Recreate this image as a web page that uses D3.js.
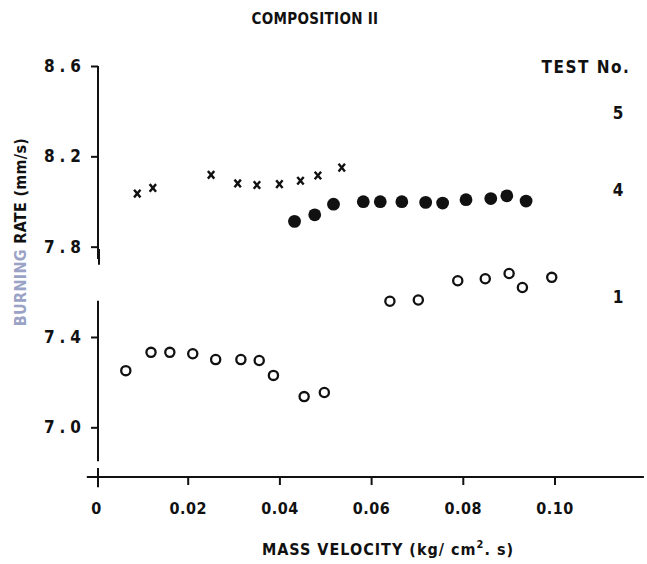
<!DOCTYPE html>
<html>
<head>
<meta charset="utf-8">
<script src="https://cdn.jsdelivr.net/npm/d3@7"></script>
<style>
  html, body { margin: 0; padding: 0; background: #fff; }
  svg { display: block; }
  text { font-family: "DejaVu Sans Condensed", "DejaVu Sans", sans-serif; fill: #111; }
</style>
</head>
<body>
<svg id="chart" width="647" height="564"></svg>
<script>
// ---- data ----
const title = "COMPOSITION II";
const xTickValues = [0, 0.02, 0.04, 0.06, 0.08, 0.10];
const xTickLabels = ["0", "0.02", "0.04", "0.06", "0.08", "0.10"];
const yTickValues = [7.0, 7.4, 7.8, 8.2, 8.6];
const yTickLabels = ["7.0", "7.4", "7.8", "8.2", "8.6"];

// Test 5 (crosses)
const test5X = [0.0090, 0.0124, 0.0251, 0.0309, 0.0351, 0.0400, 0.0446, 0.0484, 0.0536];
const test5Y = [8.035, 8.060, 8.118, 8.080, 8.073, 8.077, 8.092, 8.115, 8.150];
// Test 4 (filled circles)
const test4X = [0.0433, 0.0477, 0.0518, 0.0583, 0.0620, 0.0667, 0.0719, 0.0756, 0.0807, 0.0861, 0.0896, 0.0938];
const test4Y = [7.912, 7.941, 7.988, 7.999, 7.999, 7.999, 7.996, 7.993, 8.008, 8.013, 8.025, 8.002];
// Test 1 (open circles)
const test1X = [0.0065, 0.0120, 0.0161, 0.0211, 0.0261, 0.0316, 0.0356, 0.0387, 0.0454, 0.0498,
                0.0641, 0.0703, 0.0789, 0.0849, 0.0901, 0.0930, 0.0994];
const test1Y = [7.251, 7.332, 7.332, 7.326, 7.300, 7.300, 7.296, 7.230, 7.136, 7.154,
                7.558, 7.564, 7.649, 7.658, 7.681, 7.619, 7.664];

const legendTitle = "TEST No.";
const testNames = ["5", "4", "1"];
const testLabelY = [8.392, 8.052, 7.578];   // vertical placement of the test number labels (data units)

// ---- layout ----
const svg = d3.select("#chart");
const x = d3.scaleLinear().domain([0, 0.1]).range([96, 554.5]);
const y = d3.scaleLinear().domain([6.78, 8.6]).range([477, 66]);

// title
svg.append("text").attr("x", 315).attr("y", 24).attr("text-anchor", "middle")
  .style("font-size", "15px").style("font-weight", "bold").style("letter-spacing", "0.3px").text(title);

// x axis
const xAxis = d3.axisBottom(x).tickValues(xTickValues)
  .tickFormat((d, i) => xTickLabels[i]).tickSize(8).tickSizeOuter(0).tickPadding(18);
const gx = svg.append("g").attr("transform", `translate(0,${y(6.78)})`).call(xAxis);
gx.select(".domain").remove();
gx.append("line").attr("x1", x(-0.002)).attr("x2", x(0.1195)).attr("y1", 0).attr("y2", 0)
  .attr("stroke", "#111").attr("stroke-width", 2.2);
gx.selectAll(".tick line").attr("stroke", "#111").attr("stroke-width", 2);
gx.selectAll(".tick").filter(d => d === 0).select("line").remove();
gx.selectAll(".tick text").style("font-size", "16px").style("font-weight", "bold")
  .style("letter-spacing", "0.5px")
  .style("font-family", "'DejaVu Sans Condensed', sans-serif").attr("fill", "#111");

// y axis
const yAxis = d3.axisLeft(y).tickValues(yTickValues)
  .tickFormat((d, i) => yTickLabels[i]).tickSize(7).tickSizeOuter(0).tickPadding(10);
const gy = svg.append("g").attr("transform", `translate(${x(0) + 2},0)`).call(yAxis);
gy.select(".domain").remove();
const ySegments = [[8.6, 7.745], [7.79, 7.72], [7.56, 6.85], [6.82, 6.735]];
gy.selectAll(".seg").data(ySegments).join("line").attr("class", "seg")
  .attr("x1", (d, i) => i === 1 ? 1 : 0).attr("x2", (d, i) => i === 1 ? 1 : 0)
  .attr("y1", d => y(d[0])).attr("y2", d => y(d[1]))
  .attr("stroke", "#111").attr("stroke-width", 2);
gy.selectAll(".tick line").attr("stroke", "#111").attr("stroke-width", 2);
gy.selectAll(".tick text").style("font-size", "17px").style("font-weight", "bold")
  .style("letter-spacing", "5px").attr("dx", "5px").attr("fill", "#111");

// axis titles
const yl = svg.append("text").attr("transform", `translate(26,${232}) rotate(-90)`)
  .attr("text-anchor", "middle").style("font-size", "16px").style("font-weight", "bold")
  .style("letter-spacing", "0.3px");
yl.append("tspan").attr("fill", "#9aa2c6").style("fill", "#9aa2c6").text("BURNING");
yl.append("tspan").text(" RATE (mm/s)");

const xl = svg.append("text").attr("x", 388).attr("y", 555).attr("text-anchor", "middle")
  .style("font-size", "16px").style("font-weight", "bold").style("letter-spacing", "1px");
xl.append("tspan").text("MASS VELOCITY (kg/ cm");
xl.append("tspan").attr("dy", -7).style("font-size", "11px").text("2");
xl.append("tspan").attr("dy", 7).text(". s)");

// data marks
const pts = (xs, ys) => xs.map((v, i) => ({ x: v, y: ys[i] }));

svg.append("g").selectAll("path").data(pts(test5X, test5Y)).join("path")
  .attr("transform", d => `translate(${x(d.x)},${y(d.y)})`)
  .attr("d", "M-3.2,-3.8L3.2,3.8M3.2,-3.8L-3.2,3.8")
  .attr("stroke", "#111").attr("stroke-width", 2.4).attr("fill", "none");

svg.append("g").selectAll("circle").data(pts(test4X, test4Y)).join("circle")
  .attr("cx", d => x(d.x)).attr("cy", d => y(d.y)).attr("r", 6.4).attr("fill", "#111");

svg.append("g").selectAll("circle").data(pts(test1X, test1Y)).join("circle")
  .attr("cx", d => x(d.x)).attr("cy", d => y(d.y)).attr("r", 4.6)
  .attr("fill", "none").attr("stroke", "#111").attr("stroke-width", 2.3);

// test number labels
svg.append("text").attr("x", 586).attr("y", 73).attr("text-anchor", "middle")
  .style("font-size", "17px").style("font-weight", "bold").style("letter-spacing", "1.5px").text(legendTitle);
svg.append("g").selectAll("text").data(testNames).join("text")
  .attr("x", 618).attr("y", (d, i) => y(testLabelY[i]) + 6).attr("text-anchor", "middle")
  .style("font-size", "17px").style("font-weight", "bold").text(d => d);
</script>
</body>
</html>
